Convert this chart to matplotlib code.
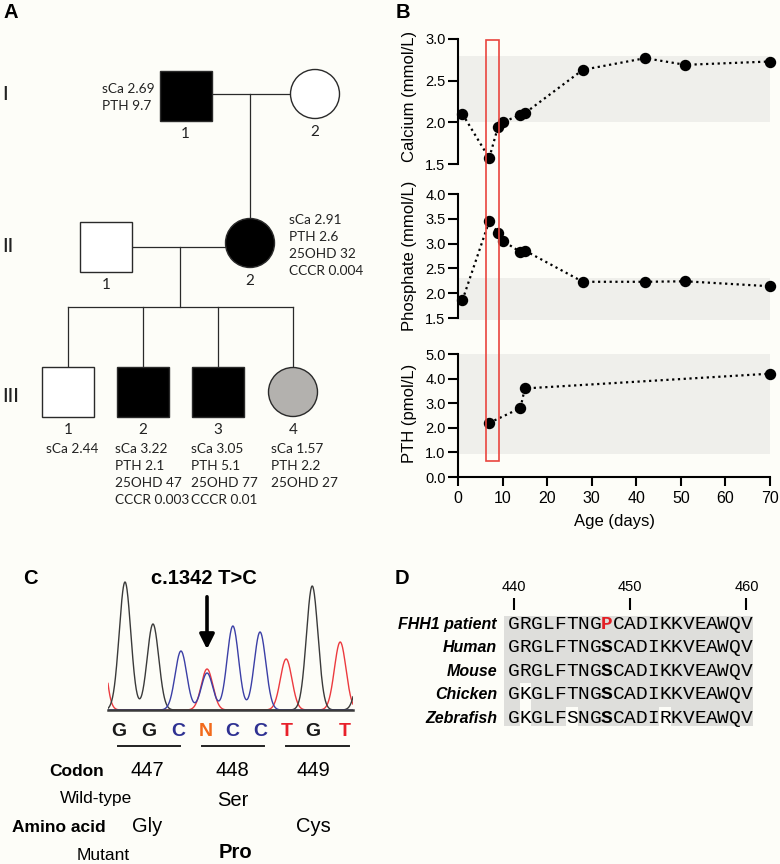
import numpy as np
import matplotlib.pyplot as plt
from matplotlib.patches import Rectangle, Circle

plt.rcParams['font.family'] = ['Liberation Sans', 'DejaVu Sans']

W, H = 780, 864
BG = '#fdfdf8'

# ---------------- B: biochemistry over the first 70 days
ca_day = [1, 7, 9, 10, 14, 15, 28, 42, 51, 70]
ca_val = [2.10, 1.57, 1.95, 2.00, 2.09, 2.11, 2.63, 2.77, 2.69, 2.73]
ph_day = [1, 7, 9, 10, 14, 15, 28, 42, 51, 70]
ph_val = [1.86, 3.45, 3.22, 3.06, 2.83, 2.86, 2.23, 2.23, 2.24, 2.14]
pth_day = [7, 14, 15, 70]
pth_val = [2.2, 2.8, 3.6, 4.2]
ca_ref = (2.0, 2.8)
ph_ref = (1.45, 2.3)
pth_ref = (0.95, 5.0)
window_days = (6.3, 9.3)

# ---------------- A: pedigree
# id, shape, fill, centre x, centre y  (pixel layout)
people = [
    ('I-1', 'square', 'black', 185.5, 96),
    ('I-2', 'circle', 'white', 315, 94),
    ('II-1', 'square', 'white', 106, 247),
    ('II-2', 'circle', 'black', 250, 243),
    ('III-1', 'square', 'white', 68, 392),
    ('III-2', 'square', 'black', 142.5, 392),
    ('III-3', 'square', 'black', 217.5, 392),
    ('III-4', 'circle', '#b3b1ae', 293, 392),
]
numbers = {'I-1': '1', 'I-2': '2', 'II-1': '1', 'II-2': '2',
           'III-1': '1', 'III-2': '2', 'III-3': '3', 'III-4': '4'}
notes = {
    'I-1': ['sCa 2.69', 'PTH 9.7'],
    'II-2': ['sCa 2.91', 'PTH 2.6', '25OHD 32', 'CCCR 0.004'],
    'III-1': ['sCa 2.44'],
    'III-2': ['sCa 3.22', 'PTH 2.1', '25OHD 47', 'CCCR 0.003'],
    'III-3': ['sCa 3.05', 'PTH 5.1', '25OHD 77', 'CCCR 0.01'],
    'III-4': ['sCa 1.57', 'PTH 2.2', '25OHD 27'],
}
note_xy = {'I-1': (102, 89), 'II-2': (289, 220), 'III-1': (46, 449),
           'III-2': (115, 449), 'III-3': (191, 449), 'III-4': (271, 449)}
generations = ['I', 'II', 'III']
gen_y = [94, 247, 397]

# ---------------- C: chromatogram
bases = ['G', 'G', 'C', 'N', 'C', 'C', 'T', 'G', 'T']
codons = ['447', '448', '449']
wild_aa = ['Gly', 'Ser', 'Cys']
mut_aa = ['', 'Pro', '']
# peak position (base index), channel, height
peak_pos = [-1.0, 0.0, 1.04, 2.08, 3.05, 3.05, 4.01, 5.02, 5.99, 6.96, 8.0, 8.85]
peak_ch = ['T', 'G', 'G', 'C', 'C', 'T', 'C', 'C', 'T', 'G', 'T', 'G']
peak_h = [115, 128, 86, 59, 37, 41, 84, 78, 51, 124, 68, 60]

# ---------------- D: alignment
species = ['FHH1 patient', 'Human', 'Mouse', 'Chicken', 'Zebrafish']
seqs = ['GRGLFTNGPCADIKKVEAWQV',
        'GRGLFTNGSCADIKKVEAWQV',
        'GRGLFTNGSCADIKKVEAWQV',
        'GKGLFTNGSCADIKKVEAWQV',
        'GKGLFSNGSCADIRKVEAWQV']
first_res = 440
mut_res = 448

base_col = {'G': '#1a1a1a', 'C': '#2e3192', 'N': '#f26a1b', 'T': '#e8202a'}
trace_col = {'G': '#3a3a3a', 'C': '#3b3fa6', 'T': '#ec3a3f'}

fig = plt.figure(figsize=(W / 100, H / 100), dpi=100, facecolor=BG)


def px_axes(left, top, right, bottom):
    return fig.add_axes([left / W, 1 - bottom / H, (right - left) / W, (bottom - top) / H])


ax0 = fig.add_axes([0, 0, 1, 1])
ax0.set_xlim(0, W)
ax0.set_ylim(H, 0)
ax0.axis('off')
ax0.set_facecolor('none')

# panel letters
for lab, x, y in [('A', 11, 13), ('B', 403, 13), ('C', 30, 578), ('D', 402, 578)]:
    ax0.text(x, y, lab, fontsize=14.5, fontweight='bold', ha='center', va='center')

# ---------------- pedigree
ped_font = ['Lato', 'DejaVu Sans']
lc = '#2a2a2a'
segs = [((212, 94), (291, 94)), ((250, 94), (250, 218)),
        ((132, 247), (225, 247)), ((180, 247), (180, 307)),
        ((68, 307), (293, 307))]
for x in [68, 143, 218, 293]:
    segs.append(((x, 307), (x, 367)))
for (x1, y1), (x2, y2) in segs:
    ax0.plot([x1, x2], [y1, y2], color=lc, lw=0.9, zorder=1)

for pid, shape, fill, cx, cy in people:
    if shape == 'square':
        ax0.add_patch(Rectangle((cx - 26, cy - 25), 52, 50, facecolor=fill,
                                edgecolor=lc, lw=1.0, zorder=2))
    else:
        ax0.add_patch(Circle((cx, cy), 24.5, facecolor=fill, edgecolor=lc, lw=1.0, zorder=2))
    ax0.text(cx, cy + 38, numbers[pid], fontsize=11, ha='center', va='center',
             family=ped_font, color='#222222')
    if pid in notes:
        nx, ny = note_xy[pid]
        for i, s in enumerate(notes[pid]):
            ax0.text(nx, ny + i * 17, s, fontsize=9.8, ha='left', va='center',
                     family=ped_font, color='#222222')

for g, y in zip(generations, gen_y):
    ax0.text(2, y, g, fontsize=14, ha='left', va='center', family=ped_font,
             fontweight='medium', color='#222222')

# ---------------- panel B axes
axCa = px_axes(458, 39, 770, 164)
axPh = px_axes(458, 194, 770, 318)
axPt = px_axes(458, 354, 770, 477)

series = [
    (axCa, ca_day, ca_val, ca_ref, (1.5, 3.0), np.arange(1.5, 3.01, 0.5), 'Calcium (mmol/L)', 0.54),
    (axPh, ph_day, ph_val, ph_ref, (1.5, 4.0), np.arange(1.5, 4.01, 0.5), 'Phosphate (mmol/L)', 0.5),
    (axPt, pth_day, pth_val, pth_ref, (0, 5.0), np.arange(0, 5.01, 1.0), 'PTH (pmol/L)', 0.52),
]
for ax, d, v, ref, ylim, yt, lab, ly in series:
    ax.set_facecolor('none')
    ax.fill_between([0, 70], ref[0], ref[1], color='#efefeb', lw=0, clip_on=False, zorder=0)
    ax.plot(d, v, color='black', ls=(0, (1, 1.6)), lw=1.6, marker='o', ms=7.2,
            clip_on=False, zorder=3)
    ax.set_xlim(0, 70)
    ax.set_ylim(*ylim)
    ax.set_yticks(yt)
    ax.set_yticklabels(['%.1f' % t for t in yt])
    ax.tick_params(axis='y', length=7, width=1.5, labelsize=10.5, pad=2)
    for s in ['top', 'right']:
        ax.spines[s].set_visible(False)
    ax.spines['left'].set_linewidth(1.5)
    ax.set_ylabel(lab, fontsize=12)
    ax.yaxis.set_label_coords(-0.131, ly)
    if ax is not axPt:
        ax.spines['bottom'].set_visible(False)
        ax.set_xticks([])

axPt.spines['bottom'].set_linewidth(1.5)
axPt.set_xticks(range(0, 71, 10))
axPt.tick_params(axis='x', length=6.5, width=1.5, labelsize=11.5, pad=3.5)
axPt.set_xlabel('Age (days)', fontsize=12)
axPt.xaxis.set_label_coords(0.5, -0.30)

# red box marking the first week
inv = fig.transFigure.inverted()
x0, y1 = inv.transform(axCa.transData.transform((window_days[0], 2.985)))
x1, y0 = inv.transform(axPt.transData.transform((window_days[1], 0.66)))
fig.add_artist(Rectangle((x0, y0), x1 - x0, y1 - y0, transform=fig.transFigure,
                         fill=False, edgecolor='#e9453f', lw=1.2, zorder=10))

# ---------------- C: chromatogram
axC = px_axes(108, 575, 353, 710)
axC.set_facecolor('none')
xx = np.linspace(-0.632, 8.476, 800)
for ch in ['T', 'G', 'C']:
    tr = np.zeros_like(xx)
    for p, c, h in zip(peak_pos, peak_ch, peak_h):
        if c == ch:
            tr += h * np.exp(-(xx - p) ** 2 / (2 * 0.215 ** 2))
    axC.plot(xx, tr, color=trace_col[ch], lw=1.0)
axC.set_xlim(-0.632, 8.476)
axC.set_ylim(0, 135)
for s in ['top', 'right', 'left']:
    axC.spines[s].set_visible(False)
axC.spines['bottom'].set_color('#3a3a3a')
axC.spines['bottom'].set_linewidth(1.8)
axC.set_xticks([])
axC.set_yticks([])

ax0.text(204, 578, 'c.1342 T>C', fontsize=14.5, fontweight='bold', ha='center', va='center')
ax0.annotate('', xy=(207, 652), xytext=(207, 594),
             arrowprops=dict(arrowstyle='-|>', lw=2.6, color='black', mutation_scale=22))

base_x = [119, 149, 178, 206, 232, 260, 287, 313, 345]
for b, x in zip(bases, base_x):
    ax0.text(x, 731, b, fontsize=14, fontweight='bold', color=base_col[b],
             ha='center', va='center')
codon_x = [147, 232, 313]
for (a, b), cod, wt, mt, cx in zip([(118, 180), (202, 264), (286, 349)], codons,
                                   wild_aa, mut_aa, codon_x):
    ax0.plot([a, b], [746, 746], color='#222222', lw=1.4)
    ax0.text(cx, 771, cod, fontsize=14.5, ha='center', va='center')
    if cod == '448':
        ax0.text(cx + 1, 800, wt, fontsize=14.5, ha='center', va='center')
        ax0.text(cx + 3, 853, mt, fontsize=14.5, fontweight='bold', ha='center', va='center')
    else:
        ax0.text(cx, 826, wt, fontsize=14.5, ha='center', va='center')
ax0.text(77, 771, 'Codon', fontsize=12.5, fontweight='bold', ha='center', va='center')
ax0.text(96, 798, 'Wild-type', fontsize=12.5, ha='center', va='center')
ax0.text(59, 827, 'Amino acid', fontsize=12.5, fontweight='bold', ha='center', va='center')
ax0.text(103, 855, 'Mutant', fontsize=12.5, ha='center', va='center')

# ---------------- D: alignment
axD = px_axes(504, 610, 753, 726)
axD.set_facecolor('none')
axD.set_xlim(first_res - 10 / 11.62, first_res + 239 / 11.62)
axD.set_ylim(4.32, -0.615)
axD.axhspan(-0.36, 4.32, color='#dededb', lw=0, zorder=0)
human = seqs[1]
for r, sq in enumerate(seqs):
    for i, ch in enumerate(sq):
        res = first_res + i
        if r >= 2 and ch != human[i]:
            axD.add_patch(Rectangle((res - 0.5, r - 0.5), 1, 1, facecolor=BG, lw=0, zorder=1))
        kw = dict(fontsize=14, family='Liberation Mono', ha='center', va='center', zorder=3)
        if res == mut_res:
            kw['fontweight'] = 'bold'
            if r == 0:
                kw['color'] = '#e31e24'
        axD.text(res, r, ch, **kw)
    axD.text(first_res - 1.46, r, species[r], fontsize=11.5, fontweight='bold',
             style='italic', ha='right', va='center')
axD.xaxis.tick_top()
axD.set_xticks([440, 450, 460])
axD.tick_params(axis='x', length=8.6, width=1.5, labelsize=10.5, pad=3)
axD.set_yticks([])
for s in axD.spines.values():
    s.set_visible(False)

fig.savefig('out.png', dpi=100, facecolor=BG)
